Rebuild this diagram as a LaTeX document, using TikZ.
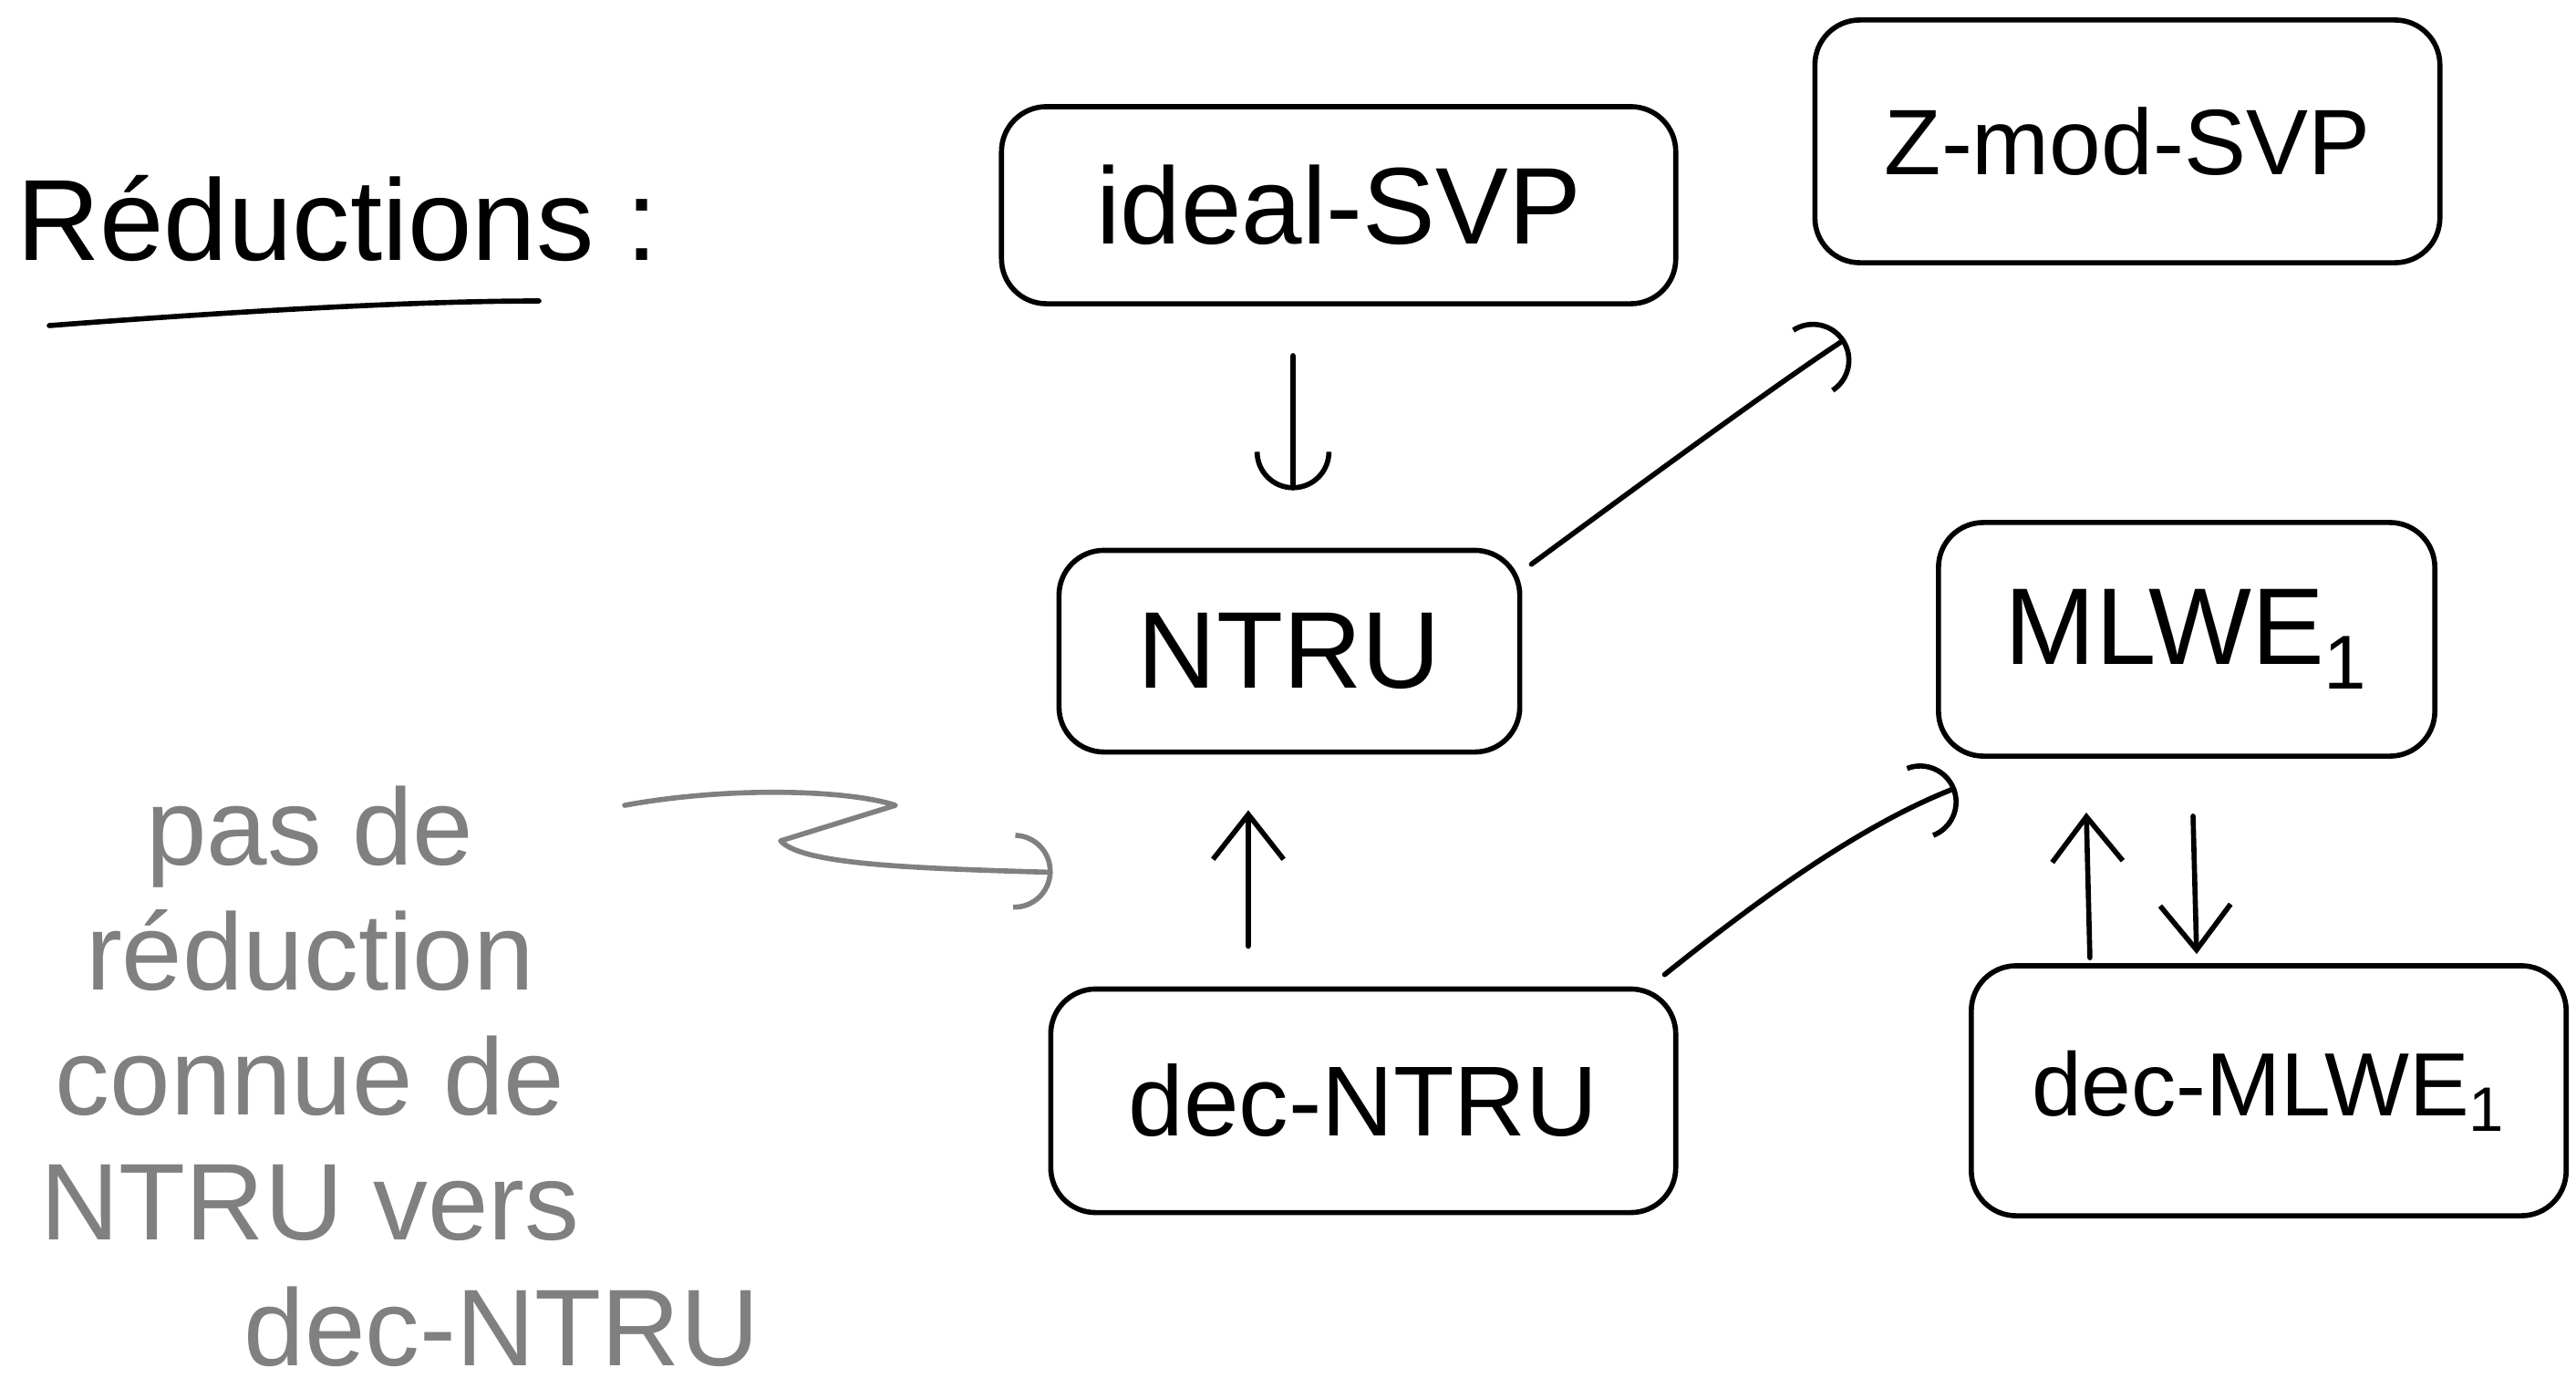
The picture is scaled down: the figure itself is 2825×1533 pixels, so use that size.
\documentclass[tikz,border=0pt]{standalone}
\usepackage{fontspec}
\setmainfont{Liberation Sans}
\usetikzlibrary{arrows.meta}
\definecolor{notegray}{RGB}{128,128,128}
\begin{document}
\begin{tikzpicture}[x=0.01cm,y=-0.01cm,
  box/.style={draw, line width=1.6pt, rounded corners=14pt, inner sep=0pt, font=\fontsize{34}{40}\selectfont},
  arr/.style={line width=1.6pt, line cap=round, -{Straight Barb[length=14pt,width=22pt,line width=1.6pt]}},
  carr/.style={line width=1.6pt, line cap=round, -{Arc Barb[length=12pt,width=24pt,line width=1.6pt]}},
  garr/.style={line width=1.6pt, line cap=round, draw=notegray, -{Arc Barb[length=12pt,width=24pt,line width=1.6pt]}},
  notetext/.style={text=notegray, font=\fontsize{34}{39}\selectfont, align=center}]
\useasboundingbox (0,0) rectangle (2825,1533);

% title
\node[font=\fontsize{36}{40}\selectfont] (title) at (370,240) {Réductions :};
\draw[line width=1.6pt, line cap=round] (54,357) .. controls (250,342) and (450,330) .. (591,330);

% boxes
\node[box, minimum width=7.39cm, minimum height=2.16cm] (ideal) at (1468,225) {ideal-SVP};
\node[box, minimum width=6.85cm, minimum height=2.66cm, font=\fontsize{29}{34}\selectfont] (zmod) at (2333,155) {Z-mod-SVP};
\node[box, minimum width=5.05cm, minimum height=2.21cm] (ntru) at (1414,714) {NTRU};
\node[box, minimum width=5.44cm, minimum height=2.56cm] (mlwe) at (2398,701) {MLWE\textsubscript{1}};
\node[box, minimum width=6.85cm, minimum height=2.45cm, font=\fontsize{31}{36}\selectfont] (decntru) at (1495,1207) {dec-NTRU};
\node[box, minimum width=6.52cm, minimum height=2.74cm, font=\fontsize{28}{33}\selectfont] (decmlwe) at (2488,1196) {dec-MLWE\textsubscript{1}};

% connectors
\draw[carr] ([xshift=-0.50cm,yshift=-0.54cm]ideal.south) -- ([xshift=0.04cm,yshift=0.63cm]ntru.north);
\draw[carr] ([xshift=0.10cm,yshift=-0.18cm]ntru.north east) .. controls (1800,530) and (1950,420) .. ([xshift=0.36cm,yshift=-0.81cm]zmod.south west);
\draw[arr] ([xshift=-1.26cm,yshift=0.44cm]decntru.north) -- ([xshift=-0.45cm,yshift=-0.61cm]ntru.south);
\draw[carr] ([xshift=-0.15cm,yshift=0.13cm]decntru.north east) .. controls (1930,985) and (2040,905) .. ([xshift=0.22cm,yshift=-0.32cm]mlwe.south west);
\draw[arr] ([xshift=-1.96cm,yshift=0.06cm]decmlwe.north) -- ([xshift=-1.10cm,yshift=-0.59cm]mlwe.south);
\draw[arr] ([xshift=0.07cm,yshift=-0.63cm]mlwe.south) -- ([xshift=-0.79cm,yshift=0.10cm]decmlwe.north);

% grey note
\node[notetext] (note) at (340,1180) {pas de\\réduction\\connue de\\NTRU vers\\\hspace*{4.2cm}dec-NTRU};
\coordinate (zs) at (685,883);
\draw[garr, line join=round] (zs) .. controls (800,862) and (930,866) .. (982,883) -- (856,922) .. controls (880,948) and (1000,952) .. ([xshift=0.05cm,yshift=1.25cm]decntru.north west);
\end{tikzpicture}
\end{document}
